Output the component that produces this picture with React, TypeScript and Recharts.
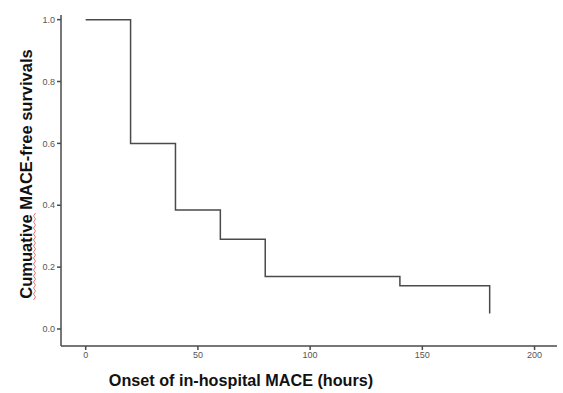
import { LineChart, Line, XAxis, YAxis } from "recharts";

// Kaplan-Meier step points (hours, survival)
const hours = [0, 20, 40, 60, 80, 140, 180];
const survival = [1.0, 0.6, 0.385, 0.29, 0.17, 0.14, 0.05];
const xTicks = [0, 50, 100, 150, 200];
const yTicks = [0, 0.2, 0.4, 0.6, 0.8, 1.0];

const data = hours.map((t, i) => ({ t, s: survival[i] }));

const axisColor = "#4a4a4a";
const font = "'Liberation Sans', Arial, sans-serif";

// red spell-check squiggle under "Cumuative"
const squiggle = Array.from({ length: 30 }, (_, i) => `${i % 2 ? 35.5 : 33.5},${300 - i * 3}`).join(" ");

export default function App() {
  return (
    <div style={{ position: "absolute", left: 0, top: 0, background: "#fff" }}>
      <LineChart width={563} height={393} data={data} margin={{ top: 15, right: 6, left: 0, bottom: 0 }}>
        <XAxis
          type="number"
          dataKey="t"
          domain={[-11, 210]}
          ticks={xTicks}
          allowDataOverflow
          height={47}
          tickSize={4}
          stroke={axisColor}
          strokeWidth={1.5}
          tick={{ fontSize: 9, fill: "#555", fontFamily: font }}
          label={{
            content: () => (
              <text x={241} y={386} textAnchor="middle" fontFamily={font} fontWeight="bold" fontSize={16.2} fill="#111">
                Onset of in-hospital MACE (hours)
              </text>
            ),
          }}
        />
        <YAxis
          type="number"
          domain={[-0.055, 1.015]}
          ticks={yTicks}
          allowDataOverflow
          width={61}
          tickSize={4}
          stroke={axisColor}
          strokeWidth={1.5}
          tickFormatter={(v: number) => v.toFixed(1)}
          tick={{ fontSize: 9, fill: "#555", fontFamily: font }}
          label={{
            content: () => (
              <g>
                <polyline points={squiggle} fill="none" stroke="#e55" strokeWidth={0.8} />
                <text
                  x={0}
                  y={0}
                  transform="translate(32,174) rotate(-90)"
                  textAnchor="middle"
                  fontFamily={font}
                  fontWeight="bold"
                  fontSize={16.5}
                  fill="#111"
                >
                  Cumuative MACE-free survivals
                </text>
              </g>
            ),
          }}
        />
        <Line
          type="stepAfter"
          dataKey="s"
          stroke="#4a4a4a"
          strokeWidth={1.5}
          dot={false}
          isAnimationActive={false}
        />
      </LineChart>
    </div>
  );
}
